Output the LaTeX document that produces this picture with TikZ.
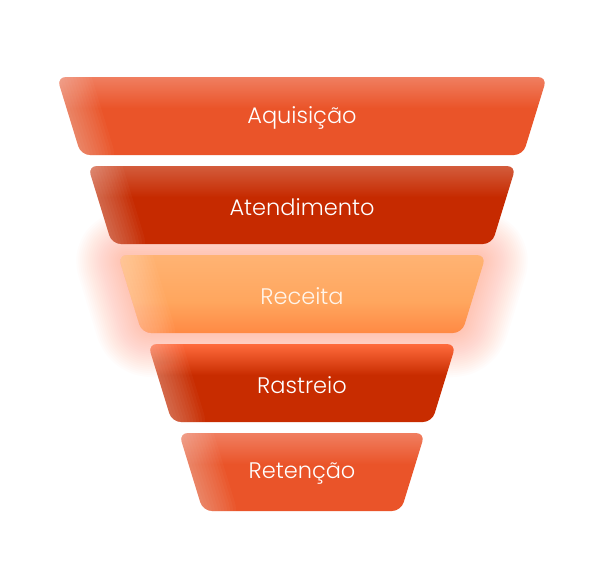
\documentclass[tikz,border=0pt]{standalone}
\usepackage{fontspec}
\setmainfont{Poppins}[UprightFont=* Light]
\usepackage{tikz}

\definecolor{aqtop}{HTML}{F07E60}
\definecolor{aqbase}{HTML}{EA5429}
\definecolor{attop}{HTML}{D35C3C}
\definecolor{atbase}{HTML}{C62A00}
\definecolor{retop}{HTML}{FFB373}
\definecolor{remid}{HTML}{FFA65E}
\definecolor{rebot}{HTML}{FF8944}
\definecolor{rstop}{HTML}{FF6B3D}
\definecolor{rsbase}{HTML}{C82C00}
\definecolor{glowcol}{HTML}{FF8466}

% bottom of the path sits at 25bp, top at 75bp
\pgfdeclareverticalshading{aqshade}{100bp}{color(0bp)=(aqbase); color(25bp)=(aqbase); color(55bp)=(aqbase); color(75bp)=(aqtop); color(100bp)=(aqtop)}
\pgfdeclareverticalshading{atshade}{100bp}{color(0bp)=(atbase); color(25bp)=(atbase); color(55bp)=(atbase); color(75bp)=(attop); color(100bp)=(attop)}
\pgfdeclareverticalshading{reshade}{100bp}{color(0bp)=(rebot); color(25bp)=(rebot); color(45bp)=(remid); color(75bp)=(retop); color(100bp)=(retop)}
\pgfdeclareverticalshading{rsshade}{100bp}{color(0bp)=(rsbase); color(25bp)=(rsbase); color(55bp)=(rsbase); color(75bp)=(rstop); color(100bp)=(rstop)}

\tikzset{
  layer/.style={rounded corners=9pt},
  layertext/.style={text=white, font=\fontsize{22.5}{26}\selectfont},
  glow/.style={draw=glowcol, line join=round, rounded corners=9pt, opacity=0.022},
  sheen/.style={draw=white, line cap=round, opacity=0.03}
}

% corners of one funnel layer: name, top y, half width of top
\newcommand\layercorners[3]{%
  \coordinate (#1-tl) at (302-#3,#2);
  \coordinate (#1-tr) at (302+#3,#2);
  \coordinate (#1-br) at (302+#3-24,#2+78);
  \coordinate (#1-bl) at (302-#3+24,#2+78);}
\newcommand\layerfill[2]{%
  \shade[layer, shading=#2] (#1-tl) -- (#1-tr) -- (#1-br) -- (#1-bl) -- cycle;
  \begin{scope}
    \clip[layer] (#1-tl) -- (#1-tr) -- (#1-br) -- (#1-bl) -- cycle;
    \foreach \w in {6,12,...,66}
      \draw[sheen, line width=\w pt] (#1-tl) -- (#1-bl);
  \end{scope}}

\begin{document}
\begin{tikzpicture}[x=1pt,y=-1pt]
  \fill[white] (0,0) rectangle (611,574);
  \useasboundingbox (0,0) rectangle (611,574);

  \layercorners{aq}{77}{245}
  \layercorners{at}{166}{214}
  \layercorners{re}{255}{184}
  \layercorners{rs}{344}{154}
  \layercorners{rt}{433}{123}

  % glow round Receita
  \foreach \w in {4,8,...,88}
    \draw[glow, line width=\w pt] (re-tl) -- (re-tr) -- (re-br) -- (re-bl) -- cycle;

  \layerfill{aq}{aqshade}
  \layerfill{at}{atshade}
  \layerfill{re}{reshade}
  \layerfill{rs}{rsshade}
  \layerfill{rt}{aqshade}

  \node[layertext] (aquisicao) at (302,118) {Aquisição};
  \node[layertext] (atendimento) at (302,207) {Atendimento};
  \node[layertext, text=white!92!orange] (receita) at (302,296) {Receita};
  \node[layertext] (rastreio) at (302,385) {Rastreio};
  \node[layertext] (retencao) at (302,474) {Retenção};
\end{tikzpicture}
\end{document}
